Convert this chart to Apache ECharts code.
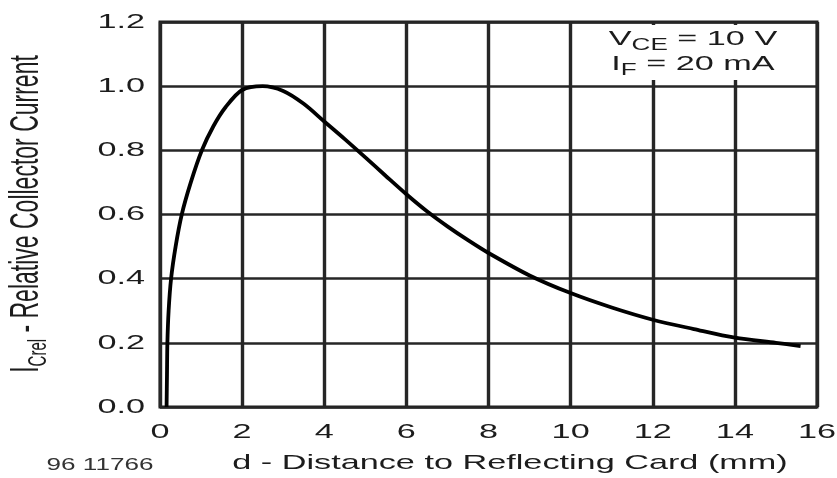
<!DOCTYPE html>
<html><head><meta charset="utf-8">
<script src="https://cdn.jsdelivr.net/npm/echarts@6/dist/echarts.min.js"></script>
<style>html,body{margin:0;padding:0;background:#fff}#c{width:837px;height:478px}</style>
</head><body><div id="c"></div>
<script>
// Data
const distance   = [0.16, 0.17, 0.18, 0.21, 0.27, 0.38, 0.53, 0.75, 1.02, 1.30, 1.60, 2.0, 2.5, 3.0, 3.5, 4.0, 4.5, 5.0, 5.5, 6.0, 6.5, 7.0, 7.5, 8.0, 9.0, 10.0, 11.0, 12.0, 13.0, 14.0, 15.0, 15.6];
const relCurrent = [0.00, 0.10, 0.20, 0.30, 0.40, 0.50, 0.60, 0.70, 0.80, 0.875, 0.935, 0.988, 1.0, 0.985, 0.945, 0.89, 0.835, 0.778, 0.72, 0.663, 0.61, 0.563, 0.52, 0.48, 0.41, 0.355, 0.31, 0.272, 0.243, 0.216, 0.20, 0.19];
const xTicks = [0, 2, 4, 6, 8, 10, 12, 14, 16];
const xTickLabels = ['0', '2', '4', '6', '8', '10', '12', '14', '16'];
const yTicks = [0, 0.2, 0.4, 0.6, 0.8, 1.0, 1.2];
const yTickLabels = ['0.0', '0.2', '0.4', '0.6', '0.8', '1.0', '1.2'];
const xTitle = 'd - Distance to Reflecting Card (mm)';
const yTitleMain = 'I';
const yTitleSub = 'Crel';
const yTitleRest = ' - Relative Collector Current';
const figureId = '96 11766';
const note1 = ['V', 'CE', ' = 10 V'];
const note2 = ['I', 'F', ' = 20 mA'];

const SX = 1.63; // horizontal stretch of the reference typography
const FONT = '"Liberation Sans", Arial, Helvetica, sans-serif';
const TXT = '#1c1c1c';

const chart = echarts.init(document.getElementById('c'));
const option = {
  animation: false,
  backgroundColor: '#fff',
  grid: { left: 160, right: 20, top: 22, bottom: 71, show: true, borderColor: '#1f1f1f', borderWidth: 3, backgroundColor: 'transparent' },
  xAxis: {
    type: 'value', min: 0, max: 16, interval: 2,
    axisLine: { show: false }, axisTick: { show: false }, axisLabel: { show: false },
    splitLine: { show: true, lineStyle: { color: '#262626', width: 3.4 } }
  },
  yAxis: {
    type: 'value', min: 0, max: 1.2, interval: 0.2,
    axisLine: { show: false }, axisTick: { show: false }, axisLabel: { show: false },
    splitLine: { show: true, lineStyle: { color: '#262626', width: 2.6 } }
  },
  series: [{
    type: 'line',
    data: distance.map((d, i) => [d, relCurrent[i]]),
    smooth: 0.3,
    showSymbol: false,
    lineStyle: { color: '#000', width: 3.8 },
    z: 5
  }]
};
chart.setOption(option);

const g = [];
xTicks.forEach((v, i) => {
  const p = chart.convertToPixel({ gridIndex: 0 }, [v, 0]);
  g.push({ type: 'text', x: p[0], y: p[1] + 25, scaleX: SX, z: 50,
    style: { text: xTickLabels[i], font: '21px ' + FONT, fill: TXT, align: 'center', verticalAlign: 'middle' } });
});
yTicks.forEach((v, i) => {
  const p = chart.convertToPixel({ gridIndex: 0 }, [0, v]);
  g.push({ type: 'text', x: p[0] - 15, y: p[1], scaleX: SX, z: 50,
    style: { text: yTickLabels[i], font: '21px ' + FONT, fill: TXT, align: 'right', verticalAlign: 'middle' } });
});
// x axis title
g.push({ type: 'text', x: 510, y: 463, scaleX: SX, z: 50,
  style: { text: xTitle, font: '21px ' + FONT, fill: TXT, align: 'center', verticalAlign: 'middle' } });
// figure id
g.push({ type: 'text', x: 100, y: 466, scaleX: SX, z: 50,
  style: { text: figureId, font: '16px ' + FONT, fill: '#333', align: 'center', verticalAlign: 'middle' } });
// y axis title (rotated)
g.push({ type: 'text', x: 31, y: 214, rotation: Math.PI / 2, scaleY: 1.75, z: 50,
  style: {
    text: '{m|' + yTitleMain + '}{s|' + yTitleSub + '}{m|' + yTitleRest + '}',
    align: 'center', verticalAlign: 'middle',
    rich: {
      m: { font: '23px ' + FONT, fill: TXT, lineHeight: 28, verticalAlign: 'top' },
      s: { font: '15px ' + FONT, fill: TXT, lineHeight: 17, padding: [11, 0, 0, 0], verticalAlign: 'top' }
    }
  } });
// annotation box
g.push({ type: 'rect', shape: { x: 575, y: 25, width: 238, height: 55 }, z: 40,
  style: { fill: '#fff', stroke: null } });
[note1, note2].forEach((n, k) => {
  g.push({ type: 'text', x: 693, y: 41 + k * 25, scaleX: SX, z: 50,
    style: {
      text: '{m|' + n[0] + '}{s|' + n[1] + '}{m|' + n[2] + '}',
      align: 'center', verticalAlign: 'middle',
      rich: {
        m: { font: '21px ' + FONT, fill: TXT, lineHeight: 24, verticalAlign: 'top' },
        s: { font: '16px ' + FONT, fill: TXT, lineHeight: 17, padding: [9, 0, 0, 0], verticalAlign: 'top' }
      }
    } });
});
chart.setOption({ graphic: { elements: g } });
</script></body></html>
